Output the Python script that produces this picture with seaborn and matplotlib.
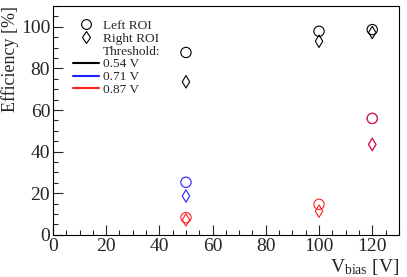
import matplotlib
matplotlib.use("Agg")
import matplotlib.pyplot as plt
import seaborn as sns
import pandas as pd
from matplotlib.lines import Line2D
from matplotlib.ticker import MultipleLocator

sns.set_theme(style="ticks")
plt.rcParams['font.family'] = ['Liberation Serif', 'DejaVu Serif']
plt.rcParams['mathtext.default'] = 'regular'

# Data
v_bias_054 = [50, 100, 120]
left_054 = [87.7, 97.9, 98.7]
right_054 = [73.6, 93.1, 97.3]

v_bias_071 = [50, 120]
left_071 = [25.3, 56.0]
right_071 = [18.7, 43.5]

v_bias_087 = [50, 100, 120]
left_087 = [8.3, 14.7, 56.0]
right_087 = [7.2, 11.4, 43.5]

thresholds = ["0.54 V", "0.71 V", "0.87 V"]
colors = ["black", "#2020ff", "#ff2020"]

series = [
    (v_bias_054, left_054, right_054),
    (v_bias_071, left_071, right_071),
    (v_bias_087, left_087, right_087),
]

fig = plt.figure(figsize=(4.07, 2.77), dpi=100)
ax = fig.add_axes([0.130, 0.152, 0.850, 0.826])

for (xs, ls, rs), c in zip(series, colors):
    df = pd.DataFrame({"x": xs, "left": ls, "right": rs})
    sns.scatterplot(data=df, x="x", y="left", marker="o", s=55,
                    facecolors="none", edgecolor=c, linewidth=0.8, ax=ax, zorder=3)
    sns.scatterplot(data=df, x="x", y="right", marker="d", s=40,
                    facecolors="none", edgecolor=c, linewidth=0.8, ax=ax, zorder=3)

ax.set_xlim(0, 130)
ax.set_ylim(0, 110)
ax.xaxis.set_major_locator(MultipleLocator(20))
ax.xaxis.set_minor_locator(MultipleLocator(5))
ax.yaxis.set_major_locator(MultipleLocator(20))
ax.yaxis.set_minor_locator(MultipleLocator(5))
ax.tick_params(which="both", direction="in", top=False, right=False,
               labelsize=14, width=0.8, pad=2)
ax.tick_params(which="major", length=7)
ax.tick_params(which="minor", length=3.5)
for sp in ax.spines.values():
    sp.set_linewidth(0.8)
    sp.set_color("black")

ax.set_ylabel("Efficiency [%]", fontsize=13, loc="top")
ax.yaxis.set_label_coords(-0.097, 1.0)
ax.set_xlabel(r"V$_{bias}$ [V]", fontsize=14, loc="right", labelpad=2)

handles = [
    Line2D([], [], marker="o", ls="none", mfc="none", mec="black", ms=7, mew=0.8),
    Line2D([], [], marker="d", ls="none", mfc="none", mec="black", ms=6.5, mew=0.8),
    Line2D([], [], ls="none"),
] + [Line2D([], [], color=c, lw=1.5) for c in colors]
labels = ["Left ROI", "Right ROI", "Threshold:"] + thresholds
ax.legend(handles, labels, loc="upper left", bbox_to_anchor=(0.042, 0.965),
          frameon=False, fontsize=9.6, handlelength=2.0, handletextpad=0.28,
          labelspacing=0.04, borderaxespad=0)

fig.savefig("out.png", dpi=100)
